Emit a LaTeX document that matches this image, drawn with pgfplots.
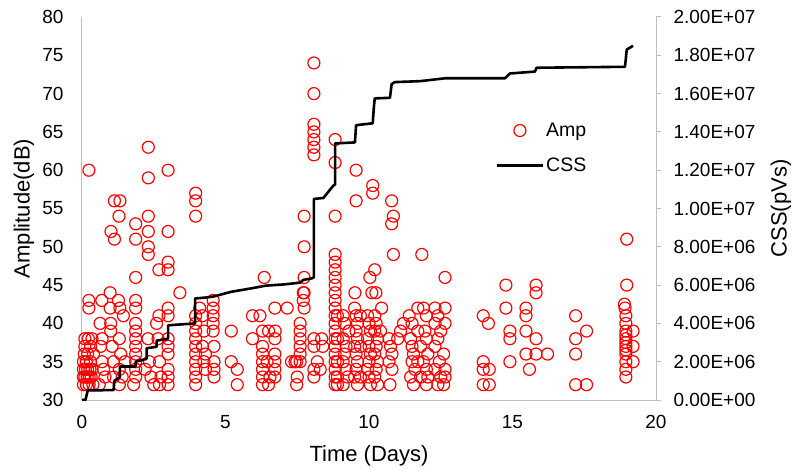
\documentclass[border=0pt]{standalone}
\usepackage{pgfplots}
\pgfplotsset{compat=1.18}
\usepackage{fontspec}
\setmainfont{Liberation Sans}
\definecolor{axgray}{RGB}{191,191,191}
\pgfplotsset{
  ampimg/.style={legend image code/.code={\draw[##1] plot coordinates {(23pt,0pt)};}},
  cssimg/.style={legend image code/.code={\draw[##1] (0pt,0pt) -- (46pt,0pt);}},
}
\begin{document}
\begin{tikzpicture}
\pgfplotsset{
  base/.style={
    scale only axis, width=574pt, height=383pt,
    xmin=0, xmax=20,
    axis line style={axgray, line width=1pt},
    tick style={axgray, line width=1pt},
    ticklabel style={font=\fontsize{19}{22}\selectfont},
    label style={font=\fontsize{22}{26}\selectfont},
    /pgf/number format/assume math mode=true,
  }
}
\begin{axis}[base,
  axis x line*=bottom, axis y line*=left,
  ymin=30, ymax=80, ytick={30,35,...,80},
  xtick={0,5,10,15,20},
  xtick style={draw=none}, ytick style={draw=none},
  yticklabel style={xshift=-15pt},
  xticklabel style={yshift=-12pt},
  xlabel={Time (Days)}, ylabel={Amplitude(dB)},
  xlabel style={at={(axis description cs:0.5,-0.145)}, anchor=center},
  ylabel style={at={(axis description cs:-0.101,0.5)}, anchor=center, rotate=0},
]
\addplot[only marks, mark=o, red, mark size=6pt, line width=1.2pt] table {
x y
0.05 32
0.05 33
0.05 34
0.05 35
0.08 36
0.10 38
0.10 33
0.12 34
0.15 32
0.15 35
0.18 33
0.20 34
0.20 36
0.22 38
0.25 32
0.25 33
0.28 34
0.30 35
0.30 37
0.32 33
0.35 34
0.38 32
0.40 36
0.10 37
0.35 38
0.24 42
0.24 43
0.24 60
0.69 43
0.63 40
0.70 38
0.65 37
0.70 35
0.75 34
0.80 33
0.60 32
0.98 44
0.98 42
1.00 40
1.01 52
1.13 51
1.13 56
1.00 39
1.05 37
1.10 35
1.10 33
1.27 43
1.32 42
1.29 54
1.32 56
1.44 41
1.30 38
1.35 36
1.30 34
1.40 33
1.30 32
1.50 35
1.87 53
1.87 51
1.87 46
1.87 43
1.87 42
1.87 40
1.87 39
1.87 38
1.87 37
1.87 36
1.87 35
1.87 34
1.87 33
1.80 32
2.31 63
2.31 59
2.31 54
2.31 52
2.31 50
2.31 49
2.20 34
2.35 35
2.40 33
2.50 32
2.30 38
2.60 40
2.68 47
2.68 41
2.65 38
2.70 35
2.75 33
2.70 32
3.00 60
3.00 52
3.00 48
3.00 47
3.00 42
3.00 41
3.00 38
3.00 37
3.00 36
3.00 34
3.00 33
3.00 32
3.41 44
3.96 57
3.96 56
3.96 54
3.96 41
3.96 40
3.96 39
3.96 38
3.96 37
3.96 36
3.96 35
3.96 34
3.96 33
3.96 32
4.10 42
4.20 41
4.25 39
4.20 37
4.30 36
4.25 35
4.30 34
4.57 43
4.57 42
4.57 41
4.57 40
4.57 39
4.60 37
4.60 35
4.60 34
4.60 33
5.20 39
5.20 35
5.41 34
5.41 32
5.94 41
6.20 41
5.94 38
6.35 46
6.72 42
7.15 42
6.29 39
6.50 39
6.73 39
6.29 37
6.29 36
6.29 35
6.29 34
6.29 33
6.29 32
6.72 38
6.72 36
6.72 35
6.72 34
6.72 33
6.50 32
6.45 35
6.55 33
7.30 35
7.48 35
7.60 35
7.48 32
7.60 40
7.60 39
7.60 38
7.60 37
7.60 36
7.71 44
7.71 43
7.74 54
7.74 50
7.74 46
7.74 44
7.74 42
7.42 35
7.50 33
8.08 74
8.08 70
8.08 66
8.08 65
8.08 64
8.08 63
8.08 62
8.08 38
8.08 37
8.39 37
8.35 38
8.08 34
8.08 33
8.20 35
8.30 34
8.82 64
8.82 61
8.82 54
8.82 49
8.82 48
8.82 47
8.82 46
8.82 45
8.82 44
8.82 43
8.82 42
8.82 41
8.82 40
8.82 39
8.82 38
8.82 37
8.82 36
8.82 35
8.82 34
8.82 33
8.82 32
8.90 41
8.90 38
8.90 35
8.90 33
8.90 32
9.10 41
9.15 40
9.10 38
9.20 37
9.15 36
9.10 35
9.20 34
9.25 33
9.10 32
9.30 39
9.55 60
9.55 56
9.51 44
9.50 42
9.55 41
9.60 40
9.55 39
9.60 38
9.50 37
9.55 36
9.60 35
9.55 34
9.50 33
9.60 32
9.70 41
9.70 37
9.70 33
10.13 58
10.13 57
10.20 47
10.03 46
10.10 44
10.24 44
10.44 42
9.95 41
10.00 40
10.05 39
9.95 38
10.00 37
10.05 36
10.00 35
9.95 34
10.00 33
10.05 32
10.20 41
10.25 40
10.20 39
10.30 38
10.25 37
10.20 36
10.30 35
10.25 34
10.20 33
10.30 32
10.40 39
10.79 56
10.85 54
10.79 53
10.85 49
10.73 32
10.70 38
10.75 37
10.80 36
10.70 35
10.80 34
11.20 40
11.10 39
11.00 38
11.40 41
11.70 42
11.84 49
11.50 40
11.45 38
11.50 37
11.55 36
11.50 35
11.60 34
11.45 33
11.55 32
11.70 39
11.80 37
11.70 35
11.80 33
11.90 42
12.00 41
11.95 39
12.00 38
12.05 36
11.90 35
12.00 34
12.05 33
12.00 32
12.65 46
12.30 42
12.40 41
12.65 42
12.30 40
12.50 39
12.65 40
12.40 38
12.30 37
12.60 36
12.45 35
12.65 34
12.30 34
12.50 33
12.65 33
12.40 32
12.60 32
13.98 41
14.16 40
13.98 35
13.98 34
14.19 34
13.98 32
14.19 32
14.77 45
14.77 42
14.91 39
14.91 38
14.91 35
15.82 45
15.82 44
15.47 42
15.47 41
15.47 39
15.82 38
15.47 36
15.82 36
16.22 36
15.59 34
17.20 41
17.58 39
17.20 38
17.20 36
17.20 32
17.58 32
18.98 51
18.98 45
18.90 42.5
18.92 42
18.95 41
18.95 40
18.95 39
18.95 38.5
18.95 38
18.95 37.5
18.95 37
18.95 36.5
18.95 36
18.95 35
18.95 34
18.95 33
19.20 39
19.20 37
19.20 35
};
\end{axis}
\begin{axis}[base,
  axis x line=none, axis y line*=right,
  ymin=0, ymax=20000000,
  ytick={0,2000000,4000000,6000000,8000000,10000000,12000000,14000000,16000000,18000000,20000000},
  yticklabels={0.00E+00,2.00E+06,4.00E+06,6.00E+06,8.00E+06,1.00E+07,1.20E+07,1.40E+07,1.60E+07,1.80E+07,2.00E+07},
  scaled y ticks=false,
  tick align=outside, major tick length=5pt,
  yticklabel style={xshift=9pt},
  ylabel={CSS(pVs)},
  ylabel style={at={(axis description cs:1.2178,0.5)}, anchor=center},
  legend style={at={(0.715,0.734)}, anchor=north west, draw=none, fill=none,
    font=\fontsize{19.5}{23}\selectfont, row sep=16pt},
  legend cell align=left,
]
\addlegendimage{only marks, mark=o, red, mark size=6pt, line width=1.2pt, ampimg}
\addlegendentry{Amp}
\addplot[black, line width=2.6pt, line join=round, cssimg] table {
x y
0.00 0
0.12 0
0.20 500000
1.10 520000
1.13 1000000
1.32 1200000
1.32 1750000
1.87 1750000
1.87 2000000
2.25 2150000
2.25 2700000
2.60 2780000
2.60 3100000
3.00 3200000
3.00 3900000
3.94 4000000
3.94 5300000
4.30 5350000
4.57 5400000
5.20 5650000
5.90 5830000
6.40 5970000
7.07 6040000
7.60 6130000
7.71 6270000
8.00 6350000
8.08 6400000
8.08 10500000
8.41 10550000
8.76 11200000
8.82 11250000
8.82 13400000
9.51 13450000
9.55 14350000
10.13 14450000
10.17 15300000
10.20 15750000
10.73 15780000
10.79 16500000
10.90 16600000
11.78 16650000
12.65 16800000
14.74 16800000
14.91 17050000
15.78 17150000
15.84 17350000
18.92 17400000
18.98 18300000
19.15 18450000
19.20 18500000
};
\addlegendentry{CSS}
\end{axis}
\pgfresetboundingbox
\path (-82pt,-72pt) rectangle (711pt,400pt);
\end{tikzpicture}
\end{document}
